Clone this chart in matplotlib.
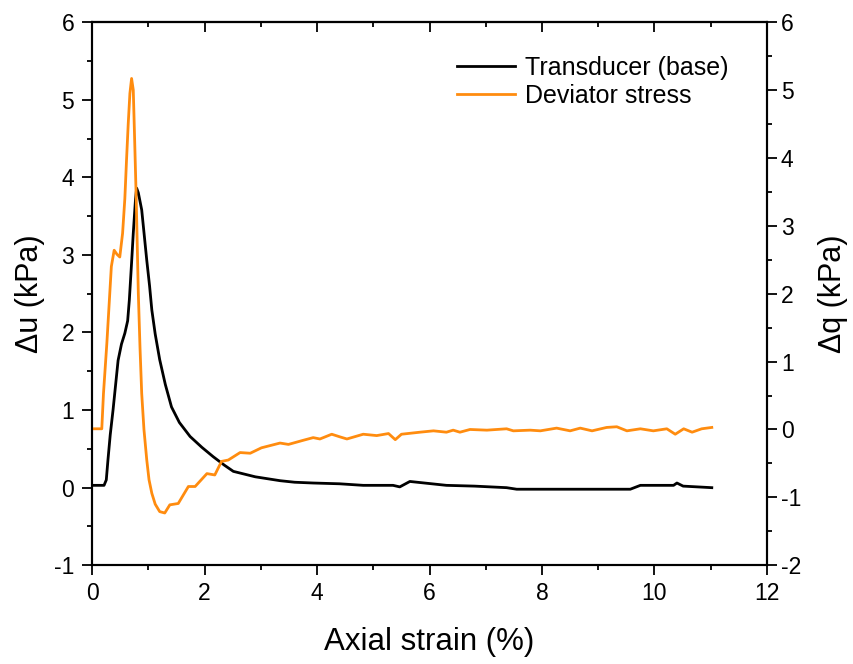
import matplotlib.pyplot as plt
from matplotlib.ticker import MultipleLocator

plt.rcParams['font.family'] = ['Liberation Sans', 'DejaVu Sans']
plt.rcParams['axes.unicode_minus'] = False

# base transducer pore pressure change (kPa) vs axial strain (%)
strain_u = [0.0, 0.10, 0.21, 0.25, 0.28, 0.32, 0.37, 0.46, 0.52, 0.58, 0.63, 0.66,
            0.70, 0.73, 0.77, 0.79, 0.82, 0.88, 0.97, 1.02, 1.06, 1.12, 1.20, 1.30,
            1.41, 1.55, 1.74, 1.95, 2.15, 2.35, 2.51, 2.90, 3.34, 3.60, 3.93, 4.40,
            4.82, 5.10, 5.35, 5.47, 5.65, 6.30, 6.80, 7.37, 7.55, 7.79, 8.20, 8.70,
            9.20, 9.57, 9.75, 10.00, 10.34, 10.40, 10.51, 11.02]
delta_u = [0.03, 0.03, 0.03, 0.10, 0.36, 0.68, 1.00, 1.64, 1.85, 1.99, 2.15, 2.42,
           2.90, 3.28, 3.72, 3.86, 3.80, 3.58, 2.93, 2.60, 2.29, 1.98, 1.65, 1.33,
           1.04, 0.84, 0.66, 0.52, 0.40, 0.29, 0.21, 0.14, 0.09, 0.07, 0.06, 0.05,
           0.03, 0.03, 0.03, 0.01, 0.08, 0.03, 0.02, 0.00, -0.02, -0.02, -0.02, -0.02,
           -0.02, -0.02, 0.03, 0.03, 0.03, 0.06, 0.02, 0.00]

# deviator stress change (kPa) vs axial strain (%)
strain_q = [0.0, 0.10, 0.17, 0.20, 0.26, 0.34, 0.39, 0.44, 0.49, 0.54, 0.58, 0.61,
            0.64, 0.67, 0.70, 0.73, 0.75, 0.78, 0.82, 0.85, 0.88, 0.92, 0.97, 1.01,
            1.06, 1.12, 1.20, 1.29, 1.38, 1.53, 1.71, 1.83, 2.04, 2.18, 2.30, 2.42,
            2.63, 2.81, 3.01, 3.34, 3.49, 3.75, 3.93, 4.05, 4.26, 4.41, 4.53, 4.82,
            5.06, 5.27, 5.39, 5.50, 5.83, 6.07, 6.30, 6.42, 6.54, 6.72, 7.02, 7.37,
            7.49, 7.79, 7.97, 8.26, 8.50, 8.68, 8.89, 9.15, 9.33, 9.51, 9.75, 9.98,
            10.22, 10.37, 10.52, 10.67, 10.84, 11.02]
delta_q = [0.01, 0.01, 0.01, 0.53, 1.27, 2.40, 2.64, 2.58, 2.54, 2.89, 3.40, 3.97,
           4.50, 4.95, 5.17, 5.00, 4.40, 3.48, 2.00, 1.20, 0.53, 0.00, -0.45, -0.74,
           -0.94, -1.10, -1.21, -1.23, -1.11, -1.09, -0.84, -0.84, -0.65, -0.67, -0.47, -0.45,
           -0.34, -0.35, -0.27, -0.20, -0.22, -0.16, -0.12, -0.14, -0.07, -0.11, -0.14, -0.07,
           -0.09, -0.06, -0.15, -0.07, -0.04, -0.02, -0.04, -0.01, -0.04, 0.00, -0.01, 0.01,
           -0.02, -0.01, -0.02, 0.02, -0.02, 0.02, -0.02, 0.03, 0.04, -0.02, 0.01, -0.02,
           0.01, -0.07, 0.01, -0.04, 0.01, 0.03]

ORANGE = '#FF8C0F'


def style_axis(ax):
    for s in ax.spines.values():
        s.set_linewidth(1.5)
    ax.tick_params(which='major', length=7, width=1.3, labelsize=16.5)
    ax.tick_params(which='minor', length=3.5, width=1.3)


def main():
    fig = plt.figure(figsize=(8.54, 6.64), dpi=100)
    ax = fig.add_axes([0.108, 0.1487, 0.790, 0.818])
    ax2 = ax.twinx()

    l1, = ax.plot(strain_u, delta_u, color='black', lw=2.0, label='Transducer (base)')
    l2, = ax2.plot(strain_q, delta_q, color=ORANGE, lw=2.0, label='Deviator stress')

    ax.set_xlim(0, 12)
    ax.set_ylim(-1, 6)
    ax2.set_ylim(-2, 6)
    ax.xaxis.set_major_locator(MultipleLocator(2))
    ax.xaxis.set_minor_locator(MultipleLocator(1))
    ax.yaxis.set_major_locator(MultipleLocator(1))
    ax.yaxis.set_minor_locator(MultipleLocator(0.5))
    ax2.yaxis.set_major_locator(MultipleLocator(1))
    ax2.yaxis.set_minor_locator(MultipleLocator(0.5))

    style_axis(ax)
    style_axis(ax2)
    ax.tick_params(which='both', direction='out', top=False, right=False)
    ax.tick_params(axis='y', pad=6)
    ax.tick_params(axis='x', pad=5)
    ax2.tick_params(which='both', direction='out', left=False, right=True, pad=3)

    # top axis: inward ticks, no labels
    top = ax.secondary_xaxis('top')
    top.xaxis.set_major_locator(MultipleLocator(2))
    top.xaxis.set_minor_locator(MultipleLocator(1))
    top.tick_params(which='major', direction='in', length=7, width=1.3, labeltop=False)
    top.tick_params(which='minor', direction='in', length=3.5, width=1.3)
    top.spines['top'].set_linewidth(1.5)

    ax.set_xlabel('Axial strain (%)', fontsize=22.5, labelpad=16)
    ax.set_ylabel('\u0394u (kPa)', fontsize=22, labelpad=6)
    ax2.set_ylabel('\u0394q (kPa)', fontsize=22, labelpad=12)

    ax.legend([l1, l2], [l1.get_label(), l2.get_label()], loc='upper right',
              bbox_to_anchor=(0.965, 0.965), frameon=False, fontsize=18,
              handlelength=2.3, handletextpad=0.4, labelspacing=0.15,
              borderaxespad=0.2)

    fig.savefig('out.png', dpi=100)


if __name__ == "__main__":
    main()
